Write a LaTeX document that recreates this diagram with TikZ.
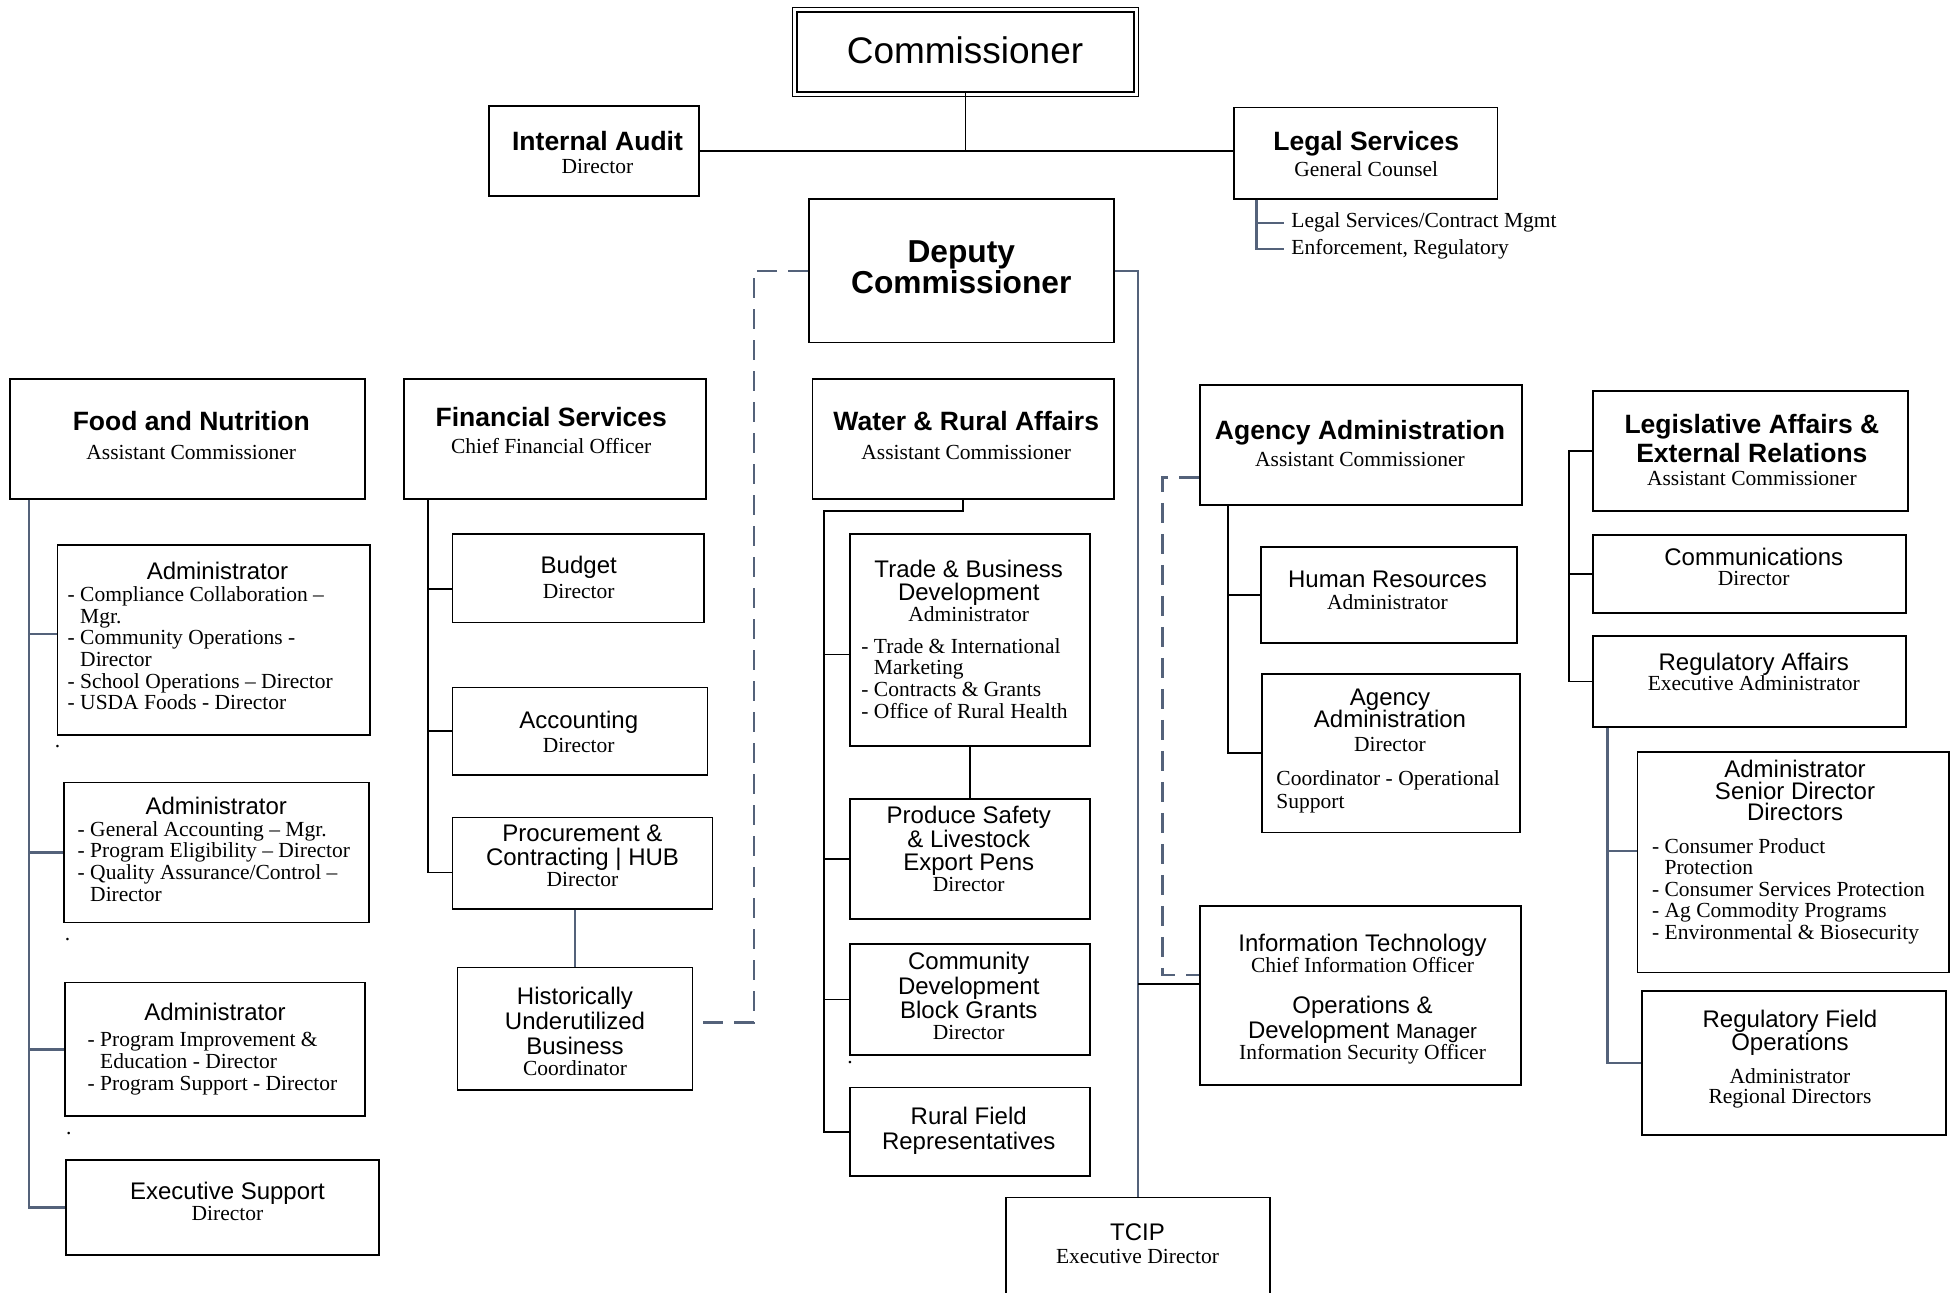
\documentclass[tikz,border=0pt]{standalone}
\usepackage{fontspec}
\usetikzlibrary{fit,calc}
\newfontfamily\orgsans{Liberation Sans}
\newfontfamily\orgserif{Liberation Serif}
\newcommand\headfont{\normalfont\orgsans\bfseries\fontsize{26.5}{30}\selectfont}
\newcommand\unitfont{\normalfont\orgsans\fontsize{24}{24.4}\selectfont}
\newcommand\rolefont{\normalfont\orgserif\fontsize{21.5}{21.6}\selectfont}
\definecolor{slate}{RGB}{84,98,122}
\tikzstyle{orgbox}=[draw, line width=1.8pt, inner sep=0pt]
\tikzstyle{head}=[align=center, inner sep=0pt, font=\headfont]
\tikzstyle{unit}=[align=center, inner sep=0pt, font=\unitfont]
\tikzstyle{duties}=[align=left, anchor=west, inner sep=0pt, font=\rolefont]
\tikzstyle{speck}=[inner sep=0pt, font=\rolefont]
\tikzstyle{wire}=[line width=1.6pt]
\tikzstyle{slate wire}=[line width=2.4pt, slate]
\tikzstyle{dash wire}=[slate wire, dash pattern=on 20pt off 11pt]

\begin{document}
\begin{tikzpicture}[x=1.25pt,y=-1.25pt]
    \useasboundingbox (0,0) rectangle (1568,1034);

    % Boxes
    \node[orgbox, line width=2.2pt, fit={(637.5,9.5) (907,73.5)}] (cm) {};
    \draw[line width=1pt] ([shift={(-3.6pt,3.6pt)}]cm.north west) rectangle ([shift={(3.6pt,-3.6pt)}]cm.south east);
    \node[orgbox, fit={(391.5,84.8) (559.5,156.8)}] (ia) {};
    \node[orgbox, fit={(987,86) (1198,159)}] (ls) {};
    \node[orgbox, fit={(647.2,159.2) (891,274)}] (dc) {};
    \node[orgbox, fit={(8,303) (292,399)}] (fn) {};
    \node[orgbox, fit={(323,303) (565,399)}] (fs) {};
    \node[orgbox, fit={(650,303) (891,399)}] (wra) {};
    \node[orgbox, fit={(960,308) (1217.5,404)}] (aa) {};
    \node[orgbox, fit={(1274.7,313) (1526.6,408.8)}] (laer) {};
    \node[orgbox, fit={(46,436) (296,588)}] (ad1) {};
    \node[orgbox, fit={(51,626) (295,738)}] (ad2) {};
    \node[orgbox, fit={(52,786) (292,893)}] (ad3) {};
    \node[orgbox, fit={(53,928) (303,1004)}] (es) {};
    \node[orgbox, fit={(362,427) (563,498)}] (bud) {};
    \node[orgbox, fit={(362,550) (566,620)}] (acc) {};
    \node[orgbox, fit={(362,654) (570,727)}] (pc) {};
    \node[orgbox, fit={(366,774) (554,872)}] (hub) {};
    \node[orgbox, fit={(680,427) (872,597)}] (td) {};
    \node[orgbox, fit={(680,639) (872,735)}] (ps) {};
    \node[orgbox, fit={(680,755) (872,844)}] (cd) {};
    \node[orgbox, fit={(680,870) (872,941)}] (rf) {};
    \node[orgbox, fit={(805,958) (1016,1060)}] (tcip) {};
    \node[orgbox, fit={(1009,437.6) (1213.5,514.6)}] (hr) {};
    \node[orgbox, fit={(1009.5,539) (1216,666)}] (aad) {};
    \node[orgbox, fit={(960,725) (1217,868)}] (it) {};
    \node[orgbox, fit={(1274.7,428) (1525,490.7)}] (comm) {};
    \node[orgbox, fit={(1274.7,508.8) (1525,581.3)}] (ra) {};
    \node[orgbox, fit={(1310,601.5) (1559,778)}] (asd) {};
    \node[orgbox, fit={(1313.6,793) (1557,908)}] (rfo) {};

    % Top
    \draw (772,40.3) node[inner sep=0pt, font=\orgsans\fontsize{37}{40}\selectfont] (cmt) {Commissioner};
    \draw (478,122.2) node[head] (iat) {Internal Audit\\[-6.6pt]{\rolefont Director}};
    \draw (1093,123) node[head] (lst) {Legal Services\\[-3.75pt]{\rolefont General Counsel}};
    \draw (1027,182.3) node[duties, anchor=base west, inner xsep=7.5pt] (ls1) {Legal Services/Contract Mgmt};
    \draw (1027,203.3) node[duties, anchor=base west, inner xsep=7.5pt] (ls2) {Enforcement, Regulatory};
    \draw (769,214) node[head, font=\orgsans\bfseries\fontsize{31.7}{31.25}\selectfont] (dct) {Deputy\\Commissioner};

    % Assistant commissioners
    \draw (153,348.3) node[head] (fnt) {Food and Nutrition\\[-1.25pt]{\rolefont Assistant Commissioner}};
    \draw (441,344.3) node[head] (fst) {Financial Services\\[-3.75pt]{\rolefont Chief Financial Officer}};
    \draw (773,348.3) node[head] (wrat) {Water \& Rural Affairs\\[-1.25pt]{\rolefont Assistant Commissioner}};
    \draw (1088,355) node[head] (aat) {Agency Administration\\[-3.25pt]{\rolefont Assistant Commissioner}};
    \draw (1401.5,360) node[head] (laert) {Legislative Affairs \&\\[-0.6pt]External Relations\\[-7.5pt]{\rolefont Assistant Commissioner}};

    % Food and Nutrition
    \draw (174,456.8) node[unit] (ad1h) {Administrator};
    \draw (54,518.6) node[duties] (ad1d) {- Compliance Collaboration –\\\phantom{- }Mgr.\\- Community Operations -\\\phantom{- }Director\\- School Operations – Director\\- USDA Foods - Director};
    \draw (173,644.8) node[unit] (ad2h) {Administrator};
    \draw (62,689.1) node[duties] (ad2d) {- General Accounting – Mgr.\\- Program Eligibility – Director\\- Quality Assurance/Control –\\\phantom{- }Director};
    \draw (172,809.8) node[unit] (ad3h) {Administrator};
    \draw (70,851) node[duties] (ad3d) {- Program Improvement \&\\\phantom{- }Education - Director\\- Program Support - Director};
    \draw (182,961.2) node[unit] (est) {Executive Support\\[-3.4pt]{\rolefont Director}};
    \draw (46,597) node[speck] (dot1) {.};
    \draw (54,752) node[speck] (dot2) {.};
    \draw (55,907) node[speck] (dot3) {.};

    % Financial Services
    \draw (463,462) node[unit] (budt) {Budget\\[1pt]{\rolefont Director}};
    \draw (463,585.7) node[unit] (acct) {Accounting\\{\rolefont Director}};
    \draw (466,684.7) node[unit] (pct) {Procurement \&\\[-0.6pt]Contracting | HUB\\[-3.4pt]{\rolefont Director}};
    \draw (460,825.2) node[unit] (hubt) {Historically\\[0.6pt]Underutilized\\[0.6pt]Business\\[-3.4pt]{\rolefont Coordinator}};

    % Water & Rural Affairs
    \draw (775,472.7) node[unit] (tdh) {Trade \& Business\\[-0.6pt]Development\\[-3.4pt]{\rolefont Administrator}};
    \draw (689,542.6) node[duties] (tdd) {- Trade \& International\\\phantom{- }Marketing\\- Contracts \& Grants\\- Office of Rural Health};
    \draw (775,679.2) node[unit] (pst) {Produce Safety\\[-0.6pt]\& Livestock\\[-0.6pt]Export Pens\\[-3.4pt]{\rolefont Director}};
    \draw (775,796.7) node[unit] (cdt) {Community\\[0.6pt]Development\\[-0.6pt]Block Grants\\[-3.4pt]{\rolefont Director}};
    \draw (775,904.8) node[unit] (rft) {Rural Field\\[0.6pt]Representatives};
    \draw (680,850) node[speck] (dot4) {.};
    \draw (910,995) node[unit] (tcipt) {TCIP\\[-1.5pt]{\rolefont Executive Director}};

    % Agency Administration
    \draw (1110,472.5) node[unit] (hrt) {Human Resources\\[-2.8pt]{\rolefont Administrator}};
    \draw (1112,576.1) node[unit] (aadh) {Agency\\[-1.65pt]Administration\\[-0.9pt]{\rolefont Director}};
    \draw (1021,633.5) node[duties] (aadd) {Coordinator - Operational\\[0.9pt]Support};
    \draw (1090,799.1) node[unit] (itt) {Information Technology\\[-3.4pt]{\rolefont Chief Information Officer}\\[17.1pt]Operations \&\\[0.6pt]Development {\fontsize{20.5}{21}\selectfont Manager}\\[-3.4pt]{\rolefont Information Security Officer}};

    % Legislative Affairs
    \draw (1403,453.5) node[unit] (commt) {Communications\\[-4pt]{\rolefont Director}};
    \draw (1403,537.5) node[unit] (rat) {Regulatory Affairs\\[-4.1pt]{\rolefont Executive Administrator}};
    \draw (1436,632.1) node[unit] (asdh) {Administrator\\[-1.9pt]Senior Director\\[-3.8pt]Directors};
    \draw (1321.5,713) node[duties] (asdd) {- Consumer Product\\\phantom{- }Protection\\- Consumer Services Protection\\- Ag Commodity Programs\\- Environmental \& Biosecurity};
    \draw (1432,847.3) node[unit] (rfot) {Regulatory Field\\[-1.3pt]Operations\\[9.1pt]{\rolefont Administrator}\\[-4.4pt]{\rolefont Regional Directors}};

    % Commissioner links
    \draw[wire] (cm.south) -- (cm.south |- ia.east);
    \draw[wire] (ia.east) -- (ia.east -| ls.west);
    \coordinate (lsx) at ($(ls.south west)+(19,0)$);
    \draw[slate wire] (lsx) |- (ls2.west);
    \draw[slate wire] (lsx |- ls1.west) -- (ls1.west);

    % Deputy links
    \coordinate (dl) at (603,818);
    \draw[dash wire] (dc.west) -| (dl) -- (dl -| hub.east);
    \draw[slate wire] (dc.east) -| (tcip.north);
    \coordinate (itj) at ([yshift=11.9pt]it.west);
    \draw[wire] (itj -| tcip.north) -- (itj);
    \coordinate (aaj) at ([yshift=-32.5pt]aa.west);
    \coordinate (dr) at (930,780);
    \draw[dash wire] (aaj) -| (dr) -- (dr -| it.west);

    % Food and Nutrition links
    \coordinate (fnx) at ($(fn.south west)+(16,0)$);
    \coordinate (ad1j) at ([yshift=6pt]ad1.west);
    \draw[slate wire] (fnx) |- (es.west);
    \draw[slate wire] (fnx |- ad1j) -- (ad1j);
    \draw[slate wire] (fnx |- ad2.west) -- (ad2.west);
    \draw[slate wire] (fnx |- ad3.west) -- (ad3.west);

    % Financial Services links
    \coordinate (fsx) at ($(fs.south west)+(20,0)$);
    \coordinate (pcj) at ([yshift=-9.4pt]pc.west);
    \coordinate (budj) at ([yshift=-10.6pt]bud.west);
    \draw[wire] (fsx) |- (pcj);
    \draw[wire] (fsx |- budj) -- (budj);
    \draw[wire] (fsx |- acc.west) -- (acc.west);
    \draw[slate wire] (hub.north |- pc.south) -- (hub.north);

    % Water & Rural Affairs links
    \coordinate (wrx) at ($(wra.south west)+(10,9)$);
    \coordinate (tdj) at ([yshift=-14.4pt]td.west);
    \draw[wire] (wra.south) |- (wrx) |- (rf.west);
    \draw[wire] (wrx |- tdj) -- (tdj);
    \draw[wire] (wrx |- ps.west) -- (ps.west);
    \draw[wire] (wrx |- cd.west) -- (cd.west);
    \draw[wire] (td.south) -- (ps.north);

    % Agency Administration links
    \coordinate (aax) at ($(aa.south west)+(23,0)$);
    \draw[wire] (aax) |- (aad.west);
    \draw[wire] (aax |- hr.west) -- (hr.west);

    % Legislative Affairs links
    \coordinate (lax) at ($(laer.west)+(-19,0)$);
    \draw[wire] (laer.west) -- (lax) |- (ra.west);
    \draw[wire] (lax |- comm.west) -- (comm.west);
    \coordinate (rax) at ($(ra.south west)+(12,0)$);
    \coordinate (asdj) at ([yshift=10.9pt]asd.west);
    \draw[slate wire] (rax) |- (rfo.west);
    \draw[slate wire] (rax |- asdj) -- (asdj);
\end{tikzpicture}
\end{document}
